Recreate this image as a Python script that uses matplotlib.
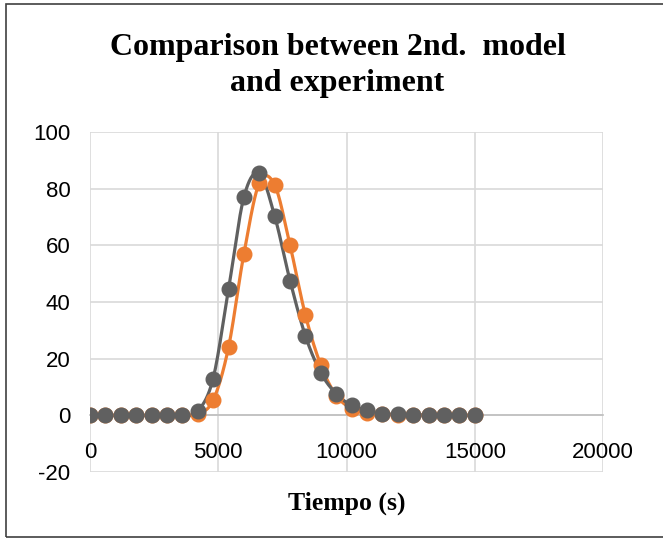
import numpy as np
import matplotlib
matplotlib.use("Agg")
import matplotlib.pyplot as plt
from matplotlib.patches import Rectangle

plt.rcParams["axes.unicode_minus"] = False

# time (s), one sample every 600 s
tiempo = [0, 600, 1200, 1800, 2400, 3000, 3600, 4200, 4800, 5400, 6000, 6600, 7200,
          7800, 8400, 9000, 9600, 10200, 10800, 11400, 12000, 12600, 13200, 13800,
          14400, 15000]
# experiment (orange) and 2nd model (gray)
experimento = [0, 0, 0, 0, 0, 0, 0, 0.5, 5.3, 24, 57, 82, 81.3, 60, 35.3, 17.7, 7,
               2.4, 0.7, 0.3, 0.2, 0.1, 0, 0, 0, 0]
modelo = [0, 0, 0, 0, 0, 0, 0, 1.5, 13, 44.5, 77, 85.4, 70.3, 47.5, 28, 15, 7.6,
          3.5, 1.8, 0.6, 0.3, 0.2, 0.1, 0, 0, 0]

ORANGE = "#ED7D31"
GRAY = "#606060"
GRID = "#d9d9d9"


def smooth(x, y, n=20):
    """Catmull-Rom curve through the points (Excel-like smoothed line)."""
    x = np.asarray(x, float); y = np.asarray(y, float)
    P = np.column_stack([x, y])
    P = np.vstack([P[0], P, P[-1]])
    out = []
    t = np.linspace(0, 1, n, endpoint=False)[:, None]
    for i in range(1, len(P) - 2):
        p0, p1, p2, p3 = P[i - 1], P[i], P[i + 1], P[i + 2]
        c1 = p1 + (p2 - p0) / 6
        c2 = p2 - (p3 - p1) / 6
        seg = ((1 - t) ** 3) * p1 + 3 * ((1 - t) ** 2) * t * c1 \
            + 3 * (1 - t) * t ** 2 * c2 + t ** 3 * p2
        out.append(seg)
    out.append(P[-2][None, :])
    out = np.vstack(out)
    return out[:, 0], out[:, 1]


fig = plt.figure(figsize=(6.63, 5.39), dpi=100)
ax = fig.add_axes([90 / 663, 1 - 472 / 539, 513 / 663, 340 / 539])

for xs, ys, c in [(tiempo, experimento, ORANGE), (tiempo, modelo, GRAY)]:
    sx, sy = smooth(xs, ys)
    ax.plot(sx, sy, color=c, lw=2.3, zorder=3, solid_capstyle="round")
    ax.plot(xs, ys, "o", color=c, ms=10.5, zorder=4)

ax.set_xlim(0, 20000)
ax.set_ylim(-20, 100)
ax.set_xticks(range(0, 20001, 5000))
ax.set_yticks(range(-20, 101, 20))
ax.grid(True, color=GRID, lw=1.2, zorder=0)
ax.set_axisbelow(True)
for s in ["top", "right", "left"]:
    ax.spines[s].set_visible(False)
ax.spines["bottom"].set_position(("data", 0))
ax.spines["bottom"].set_color("#bfbfbf")
ax.spines["bottom"].set_linewidth(1.2)
ax.tick_params(axis="both", length=0, labelsize=16)
ax.tick_params(axis="x", pad=19)
ax.tick_params(axis="y", pad=14)
for lab in ax.get_xticklabels() + ax.get_yticklabels():
    lab.set_fontfamily("Liberation Sans")

fig.text(0.509, 1 - 47 / 539, "Comparison between 2nd.  model", ha="center",
         va="center", fontsize=23, fontweight="bold", family="Liberation Serif")
fig.text(0.509, 1 - 83 / 539, "and experiment", ha="center", va="center",
         fontsize=23, fontweight="bold", family="Liberation Serif")
fig.text(347 / 663, 1 - 503 / 539, "Tiempo (s)", ha="center", va="center",
         fontsize=18.5, fontweight="bold", family="Liberation Serif")

fig.patches.append(Rectangle((6 / 663, 2 / 539), 700 / 663, 533 / 539,
                             transform=fig.transFigure, fill=False,
                             edgecolor="#404040", lw=1.2))

fig.savefig("out.png", dpi=100)
